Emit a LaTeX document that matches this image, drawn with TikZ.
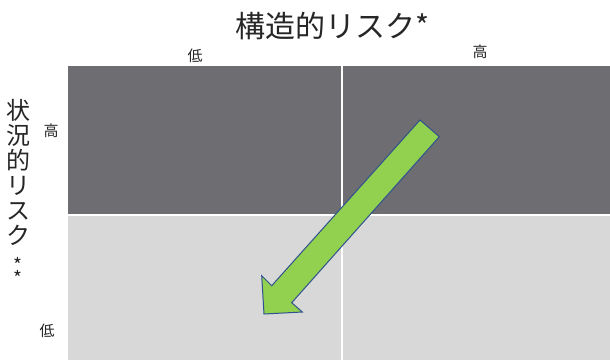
\documentclass[tikz,border=0pt]{standalone}
\usepackage{fontspec}
\newfontfamily\jp{Noto Sans CJK JP}
\definecolor{darkcell}{HTML}{6E6D71}
\definecolor{lightcell}{HTML}{D8D8D8}
\definecolor{arrowfill}{HTML}{92D050}
\definecolor{arrowline}{HTML}{2F528F}
\begin{document}
\begin{tikzpicture}[x=1pt,y=-1pt,
  axislabel/.style={font=\jp\fontsize{15}{15}\selectfont, inner sep=0pt, text=black!85},
  title/.style={font=\jp\fontsize{30}{30}\selectfont, inner sep=0pt, text=black!85}]
\useasboundingbox (0,0) rectangle (610,360);
\fill[white] (0,0) rectangle (610,360);
% cells
\fill[darkcell] (68,66) rectangle (610,215);
\fill[lightcell] (68,215) rectangle (610,360);
\draw[white, line width=2pt] (68,215) -- (610,215);
\draw[white, line width=1.5pt] (342,66) -- (342,360);
% titles
\node[title] (top) at (333,26) {構造的リスク*};
\node[axislabel] (lo1) at (195,56) {低};
\node[axislabel] (hi1) at (480,52) {高};
\node[title, align=center, font=\jp\fontsize{24}{25}\selectfont, anchor=north] (left) at (18,99)
  {状\\況\\的\\リ\\ス\\ク\\[3pt]{\fontsize{19}{19}\selectfont *}\\[-12pt]{\fontsize{19}{19}\selectfont *}};
\node[axislabel] (hi2) at (51,131) {高};
\node[axislabel] (lo2) at (47,331) {低};
% arrow
\draw[arrowline, fill=arrowfill, line width=1pt, line join=miter]
  (420,120) -- (439.3,136.7) -- (291.7,302.7) -- (302.3,312) -- (264,314)
  -- (261.7,275.7) -- (271.7,285.7) -- cycle;
\end{tikzpicture}
\end{document}
